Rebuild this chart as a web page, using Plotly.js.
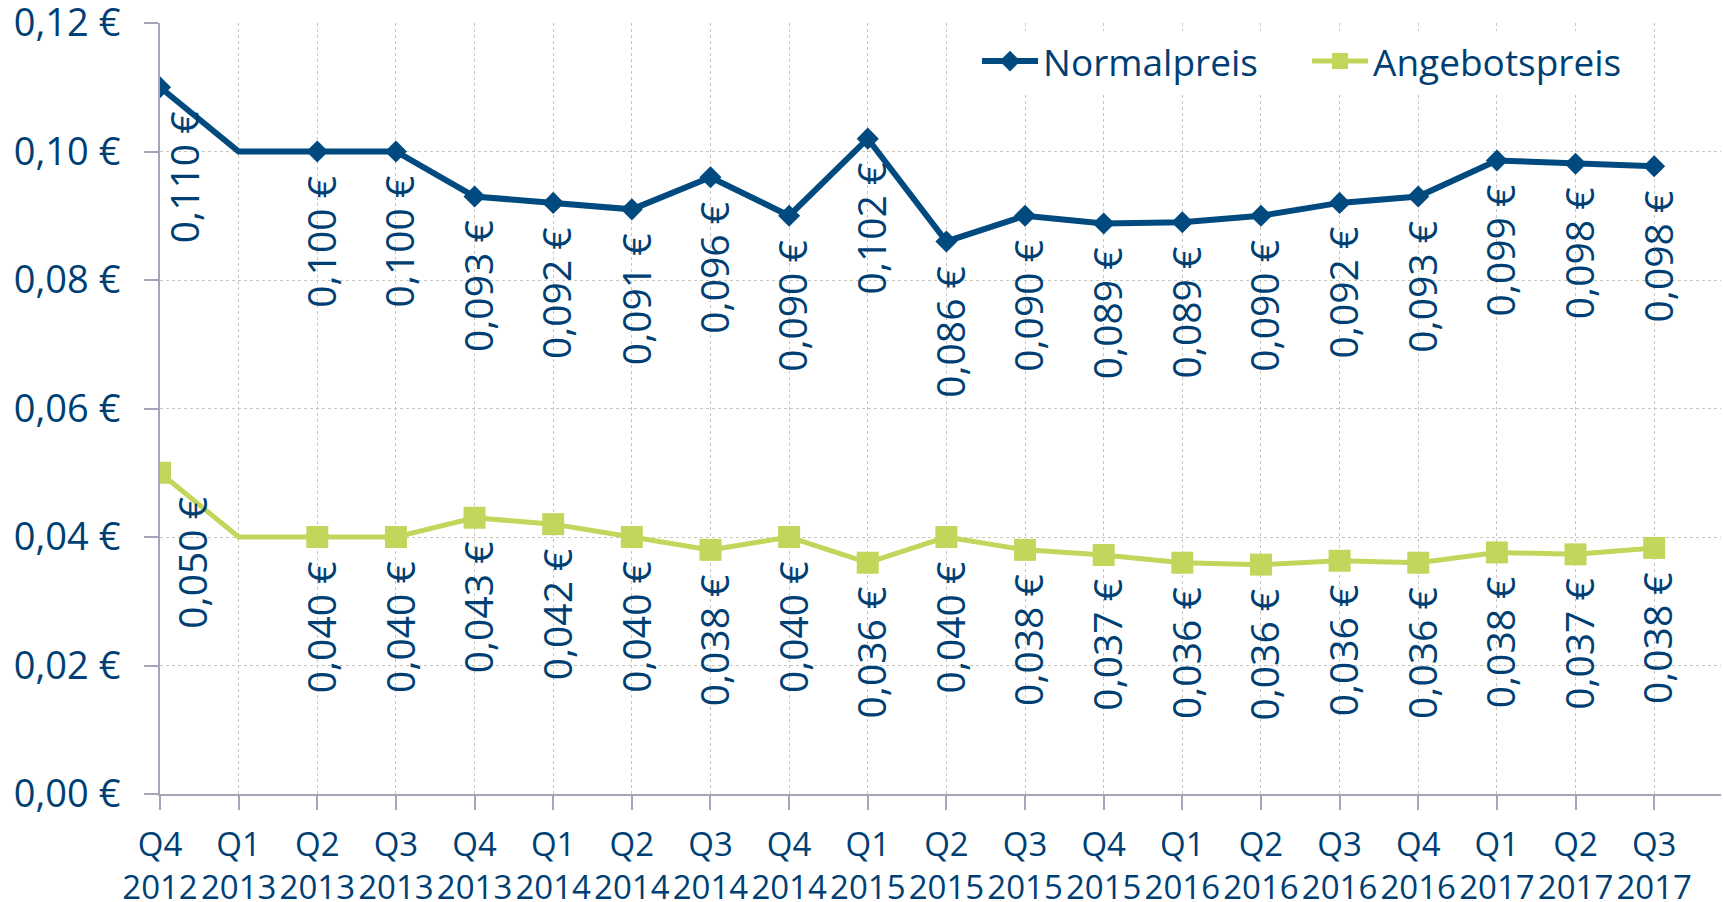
<!DOCTYPE html>
<html>
<head>
<meta charset="utf-8">
<script src="https://cdn.plot.ly/plotly-3.0.1.min.js"></script>
<style>
html,body{margin:0;padding:0;background:#fff;}
#chart{width:1723px;height:902px;}
</style>
</head>
<body>
<div id="chart"></div>
<script>
const categories = ["Q4<br>2012","Q1<br>2013","Q2<br>2013","Q3<br>2013","Q4<br>2013","Q1<br>2014","Q2<br>2014","Q3<br>2014","Q4<br>2014","Q1<br>2015","Q2<br>2015","Q3<br>2015","Q4<br>2015","Q1<br>2016","Q2<br>2016","Q3<br>2016","Q4<br>2016","Q1<br>2017","Q2<br>2017","Q3<br>2017"];

const normalValues = [0.110,0.100,0.100,0.100,0.093,0.092,0.091,0.096,0.090,0.102,0.086,0.090,0.0888,0.089,0.090,0.092,0.093,0.0986,0.0981,0.0977];
const normalLabels = ["0,110 €","","0,100 €","0,100 €","0,093 €","0,092 €","0,091 €","0,096 €","0,090 €","0,102 €","0,086 €","0,090 €","0,089 €","0,089 €","0,090 €","0,092 €","0,093 €","0,099 €","0,098 €","0,098 €"];

const offerValues = [0.050,0.040,0.040,0.040,0.043,0.042,0.040,0.038,0.040,0.036,0.040,0.038,0.0372,0.036,0.0357,0.0363,0.036,0.0376,0.0373,0.0383];
const offerLabels = ["0,050 €","","0,040 €","0,040 €","0,043 €","0,042 €","0,040 €","0,038 €","0,040 €","0,036 €","0,040 €","0,038 €","0,037 €","0,036 €","0,036 €","0,036 €","0,036 €","0,038 €","0,037 €","0,038 €"];

const yTickVals = [0,0.02,0.04,0.06,0.08,0.10,0.12];
const yTickText = ["0,00 €","0,02 €","0,04 €","0,06 €","0,08 €","0,10 €","0,12 €"];

const seriesNames = ["Normalpreis","Angebotspreis"];

const NAVY = "#004a7f";
const TEXT = "#003f73";
const GREEN = "#c3d65c";
const AXIS = "#a3a6b8";
const GRID = "#c9c6bd";
const FONT = "Open Sans, Noto Sans, sans-serif";

const traces = [
  {
    x: categories, y: normalValues, name: seriesNames[0], type: "scatter", mode: "lines+markers",
    line: {color: NAVY, width: 6},
    marker: {symbol: "diamond", color: NAVY, opacity: 1, size: normalLabels.map(l => l === "" ? 0 : 17), line: {width: 0}},
    hoverinfo: "skip"
  },
  {
    x: categories, y: offerValues, name: seriesNames[1], type: "scatter", mode: "lines+markers",
    line: {color: GREEN, width: 5},
    marker: {symbol: "square", color: GREEN, opacity: 1, size: offerLabels.map(l => l === "" ? 0 : 22), line: {width: 0}},
    hoverinfo: "skip"
  }
];

const annotations = [];
function addLabels(values, labels, firstShift) {
  values.forEach((v, i) => {
    if (labels[i] === "") return;
    annotations.push({
      x: i, y: v, xref: "x", yref: "y",
      text: labels[i], showarrow: false, textangle: -90,
      xanchor: "center", yanchor: "top",
      xshift: i === 0 ? firstShift : 3, yshift: -22,
      font: {family: FONT, size: 39, color: TEXT}
    });
  });
}
addLabels(normalValues, normalLabels, 23);
addLabels(offerValues, offerLabels, 32);

const layout = {
  width: 1723, height: 902,
  margin: {l: 160, r: 2, t: 23, b: 108},
  paper_bgcolor: "#fff", plot_bgcolor: "#fff",
  font: {family: FONT, color: TEXT},
  showlegend: true,
  legend: {
    orientation: "h", x: 0.5234, xanchor: "left", y: 0.95, yanchor: "middle",
    bgcolor: "#fff", font: {family: FONT, size: 37, color: TEXT},
    itemwidth: 56, traceorder: "normal",
    entrywidth: 259, entrywidthmode: "pixels"
  },
  xaxis: {
    type: "category", range: [0, 19.85], autorange: false,
    showline: true, linecolor: AXIS, linewidth: 2,
    ticks: "outside", ticklen: 14, tickwidth: 2, tickcolor: AXIS,
    showgrid: true, gridcolor: GRID, griddash: "dot", gridwidth: 1,
    tickangle: 0, tickfont: {family: FONT, size: 33, color: TEXT},
    ticklabelstandoff: 6, ticklabeloverflow: "allow", zeroline: false, fixedrange: true
  },
  yaxis: {
    range: [0, 0.12], autorange: false,
    tickvals: yTickVals, ticktext: yTickText,
    showline: true, linecolor: AXIS, linewidth: 2,
    ticks: "outside", ticklen: 14, tickwidth: 2, tickcolor: AXIS,
    showgrid: true, gridcolor: GRID, griddash: "dot", gridwidth: 1,
    tickfont: {family: FONT, size: 38, color: TEXT},
    ticklabelstandoff: 16, ticklabeloverflow: "allow", zeroline: false, fixedrange: true
  },
  annotations: annotations
};

Plotly.newPlot("chart", traces, layout, {displayModeBar: false, staticPlot: true});
</script>
</body>
</html>
